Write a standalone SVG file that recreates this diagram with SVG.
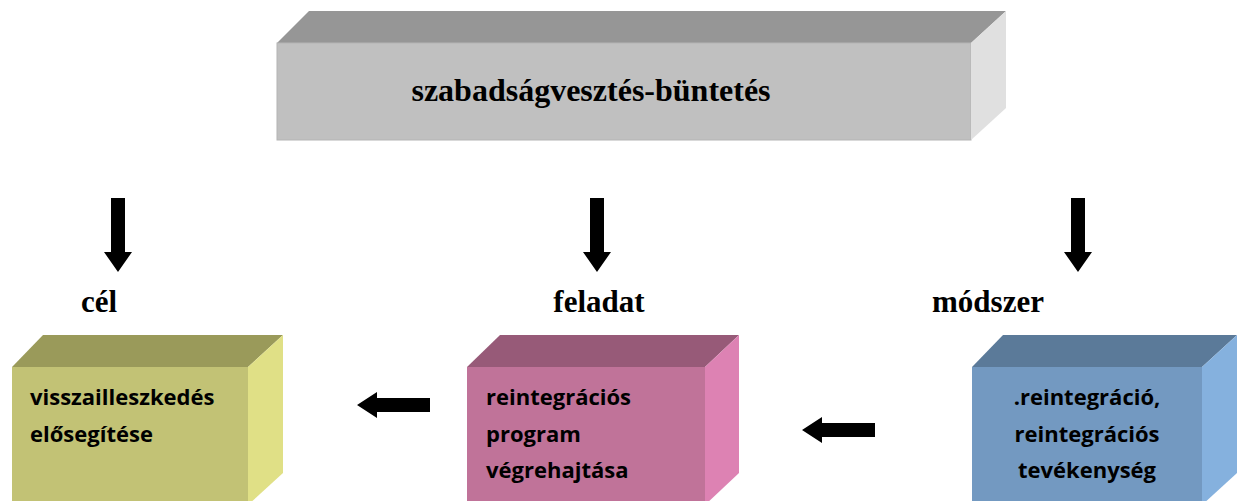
<svg xmlns="http://www.w3.org/2000/svg" width="1239" height="501" viewBox="0 0 1239 501">
<style>
.title{font-family:"Liberation Serif","Times New Roman",serif;font-weight:bold;font-size:31px;fill:#000}
.big{font-size:32px}
.body{font-family:"Open Sans","Liberation Sans",sans-serif;font-weight:bold;font-size:22px;fill:#000}
.arrow{fill:#000}
</style>
<rect width="1239" height="501" fill="#fff"/>
<g id="node-top">
<polygon points="277,43 309,11 1006,11 971,43" fill="#969696"/>
<rect x="277" y="43" width="694" height="97" fill="#c0c0c0" stroke="#b4b4b4" stroke-width="1"/>
<polygon points="971,43 1006,11 1006,108 971,140" fill="#e0e0e0"/>
<text class="title big" x="591" y="101" text-anchor="middle">szabadságvesztés-büntetés</text>
</g>
<g id="label-cel"><text class="title" x="99" y="312" text-anchor="middle">cél</text></g>
<g id="label-feladat"><text class="title" x="599" y="312" text-anchor="middle">feladat</text></g>
<g id="label-modszer"><text class="title" x="988" y="312" text-anchor="middle">módszer</text></g>
<g id="node-cel">
<polygon points="12,367 43,335 283,335 248,367" fill="#9a9a5a"/>
<rect x="12" y="367" width="236" height="150" fill="#c2c275"/>
<polygon points="248,367 283,335 283,473 248,505" fill="#e0e086"/>
<text class="body" x="30" y="405">visszailleszkedés</text>
<text class="body" x="30" y="442">elősegítése</text>
</g>
<g id="node-feladat">
<polygon points="467,367 500,335 739,335 705,367" fill="#975a78"/>
<rect x="467" y="367" width="238" height="150" fill="#c07399"/>
<polygon points="705,367 739,335 739,473 705,505" fill="#dd82b3"/>
<text class="body" x="486" y="405">reintegrációs</text>
<text class="body" x="486" y="442">program</text>
<text class="body" x="486" y="478">végrehajtása</text>
</g>
<g id="node-modszer">
<polygon points="972,367 1003,335 1237,335 1202,367" fill="#5b7a99"/>
<rect x="972" y="367" width="230" height="150" fill="#7399c1"/>
<polygon points="1202,367 1237,335 1237,473 1202,505" fill="#85b1de"/>
<text class="body" x="1087" y="405" text-anchor="middle">.reintegráció,</text>
<text class="body" x="1087" y="442" text-anchor="middle">reintegrációs</text>
<text class="body" x="1087" y="478" text-anchor="middle">tevékenység</text>
</g>
<g id="connectors">
<polygon class="arrow" points="111,198 125,198 125,252 132,252 118,272 104,252 111,252"/>
<polygon class="arrow" points="590,198 604,198 604,252 611,252 597,272 583,252 590,252"/>
<polygon class="arrow" points="1071,198 1085,198 1085,252 1092,252 1078,272 1064,252 1071,252"/>
<polygon class="arrow" points="430,398 377,398 377,392 357,405 377,418 377,412 430,412"/>
<polygon class="arrow" points="875,423 822,423 822,417 802,430 822,443 822,437 875,437"/>
</g>
</svg>
